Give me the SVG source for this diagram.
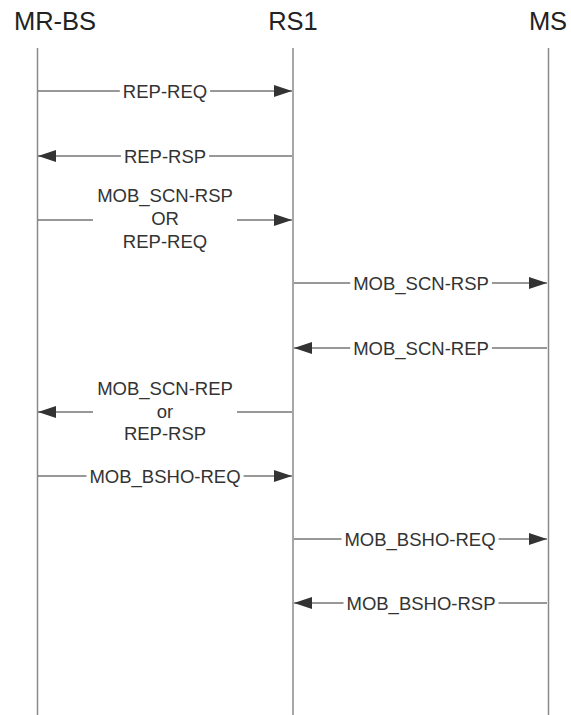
<svg xmlns="http://www.w3.org/2000/svg" width="571" height="715" viewBox="0 0 571 715">
<style>
  .head{font-family:"Liberation Sans",Arial,sans-serif;font-size:25.5px;fill:#222;text-anchor:middle}
  .life{stroke:#8a8a8a;stroke-width:1.5;fill:none}
  .msg{stroke:#333;stroke-width:1.2;fill:none;marker-end:url(#ah)}
  .seg{stroke:#333;stroke-width:1.2;fill:none}
  .bg{fill:#fff}
  .lbl{font-family:"Liberation Sans",Arial,sans-serif;font-size:18.5px;fill:#333;text-anchor:middle}
</style>
<defs>
  <marker id="ah" markerUnits="userSpaceOnUse" markerWidth="18" markerHeight="12" refX="18" refY="6" orient="auto">
    <path d="M0,0 L18,6 L0,12 z" fill="#333"/>
  </marker>
</defs>
<rect width="571" height="715" fill="#fff"/>
<g id="MR-BS">
  <text class="head" x="55" y="30">MR-BS</text>
  <line class="life" x1="37.5" y1="48" x2="37.5" y2="715"/>
</g>
<g id="RS1">
  <text class="head" x="293" y="30">RS1</text>
  <line class="life" x1="293" y1="48" x2="293" y2="715"/>
</g>
<g id="MS">
  <text class="head" x="548" y="30">MS</text>
  <line class="life" x1="548.5" y1="48" x2="548.5" y2="715"/>
</g>
<g id="connectors">
  <line class="msg" x1="38" y1="91" x2="292" y2="91"/>
  <rect class="bg" x="119.8" y="84" width="90.3" height="14"/>
  <text class="lbl" x="165" y="97.5">REP-REQ</text>

  <line class="msg" x1="292" y1="156" x2="38" y2="156"/>
  <rect class="bg" x="120.9" y="149" width="88.2" height="14"/>
  <text class="lbl" x="165" y="162.5">REP-RSP</text>

  <line class="seg" x1="38" y1="220" x2="93" y2="220"/>
  <line class="msg" x1="237" y1="220" x2="292" y2="220"/>
  <text class="lbl" x="165" y="202">MOB_SCN-RSP</text>
  <text class="lbl" x="165" y="225">OR</text>
  <text class="lbl" x="165" y="248">REP-REQ</text>

  <line class="msg" x1="294" y1="283" x2="547" y2="283"/>
  <rect class="bg" x="350.2" y="276" width="141.7" height="14"/>
  <text class="lbl" x="421" y="289.5">MOB_SCN-RSP</text>

  <line class="msg" x1="547" y1="348" x2="294" y2="348"/>
  <rect class="bg" x="350.2" y="341" width="141.7" height="14"/>
  <text class="lbl" x="421" y="354.5">MOB_SCN-REP</text>

  <line class="seg" x1="292" y1="412" x2="237" y2="412"/>
  <line class="msg" x1="93" y1="412" x2="38" y2="412"/>
  <text class="lbl" x="165" y="395">MOB_SCN-REP</text>
  <text class="lbl" x="165" y="418">or</text>
  <text class="lbl" x="165" y="440">REP-RSP</text>

  <line class="msg" x1="38" y1="476" x2="292" y2="476"/>
  <rect class="bg" x="86.5" y="469" width="157.1" height="14"/>
  <text class="lbl" x="165" y="482.5">MOB_BSHO-REQ</text>

  <line class="msg" x1="294" y1="539" x2="547" y2="539"/>
  <rect class="bg" x="341.5" y="532" width="157.1" height="14"/>
  <text class="lbl" x="420" y="545.5">MOB_BSHO-REQ</text>

  <line class="msg" x1="547" y1="603" x2="294" y2="603"/>
  <rect class="bg" x="343.5" y="596" width="155" height="14"/>
  <text class="lbl" x="421" y="609.5">MOB_BSHO-RSP</text>
</g>
</svg>
